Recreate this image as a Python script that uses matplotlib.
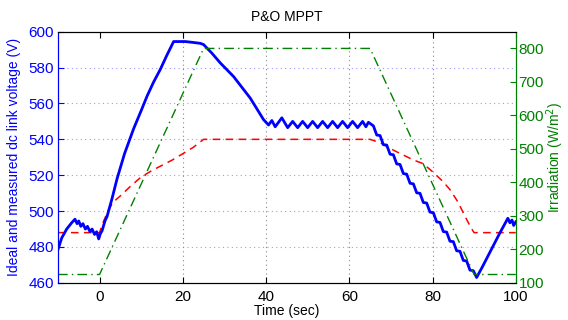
import matplotlib
matplotlib.use('Agg')
import matplotlib.pyplot as plt

plt.rcParams['font.family'] = ['Liberation Sans', 'DejaVu Sans']

# ---------------- data ---------------- #
# measured dc link voltage (blue)
t_meas = [-10, -9.1, -7.9, -6.7, -5.9, -5.4, -5.0, -4.5, -4.0, -3.4, -2.9, -2.3, -1.8, -1.2, -0.7, -0.2,
          0.2, 0.6, 1.3, 1.8, 3.0, 4.2, 6.0, 8.2, 10.0, 11.4, 13.0, 14.6, 16.2, 17.8, 20.6, 22.5, 24.2, 25.0,
          27.0, 29.0, 32.2, 36.2, 39.4, 40.6,
          41.4, 42.2, 43.8, 45.2, 46.4, 47.6, 48.8, 50.0, 51.2, 52.4, 53.6, 54.8, 56.0, 57.2, 58.4, 59.6,
          60.8, 62.0, 63.2, 64.0, 64.6,
          65.8, 66.6, 67.4, 68.2, 69.0, 69.8, 70.6, 71.4, 72.2, 73.0, 73.8, 74.6, 75.4, 76.2, 77.0, 77.8,
          78.6, 79.4, 80.2, 81.0, 81.8, 82.6, 83.4, 84.2, 85.0, 85.8, 86.6, 87.4, 88.2, 89.0, 89.8, 90.6,
          92.0, 94.0, 96.0, 98.1, 98.6, 99.1, 99.5, 100]
v_meas = [478.5, 485, 490, 493.5, 495.5, 493, 494.5, 491.5, 493, 490, 491.5, 488.5, 490, 487, 488.5, 484.5,
          487.5, 489, 494.5, 497, 507, 518, 532, 546, 556, 564, 572, 579, 587, 594.5, 594.5, 594, 593.5, 592.8,
          588, 582.6, 575, 563, 551, 548,
          550.5, 547, 552, 546.5, 550, 546.5, 550, 546.5, 550, 546.5, 550, 546.5, 550, 546.5, 550, 546.5,
          550, 546.5, 550, 547, 549.5,
          547.5, 542.4, 542.1, 537.0, 536.8, 531.7, 531.4, 526.3, 526.0, 520.9, 520.6, 515.5, 515.2, 510.2, 509.9, 504.8,
          504.5, 499.4, 499.1, 494.0, 493.7, 488.6, 488.3, 483.2, 483.0, 477.9, 477.6, 472.5, 472.2, 467.1, 466.8, 463,
          469, 478, 487, 496, 493.5, 495, 492, 494]

# ideal dc link voltage (red)
t_ideal = [-10, 0, 0.5, 1, 2, 3, 4, 5, 7.5, 10, 12.5, 15, 17.5, 20, 22.5, 25,
           65, 67.5, 71, 75.4, 77.7, 80, 82.5, 84.2, 86, 87.3, 88.5, 89.7, 90, 100]
v_ideal = [488, 488, 491.5, 494.5, 500, 504, 506.5, 508.5, 514, 519, 522.5, 525.5, 528.5, 532, 535.5, 540,
           540, 538, 533.5, 528.5, 526.5, 522, 516.5, 512, 505.5, 499.5, 494, 489, 488, 488]

# irradiation (green)
t_irr = [-10, 0, 25, 65, 90, 100]
g_irr = [125, 125, 800, 800, 125, 125]

x_ticks = [0, 20, 40, 60, 80, 100]
v_ticks = [460, 480, 500, 520, 540, 560, 580, 600]
g_ticks = [100, 200, 300, 400, 500, 600, 700, 800]
# --------------------------------------------------------- #

GREEN = (0, 0.5, 0)

fig = plt.figure(figsize=(5.68, 3.2), dpi=100)
ax1 = fig.add_axes([0.102, 0.116, 0.806, 0.785])
ax2 = ax1.twinx()

ax1.plot(t_meas, v_meas, color='blue', lw=2.0, zorder=3)
ax1.plot(t_ideal, v_ideal, color='red', lw=1.1, ls=(0, (5, 3.5)), zorder=2)
ax2.plot(t_irr, g_irr, color=GREEN, lw=1.0, ls=(0, (7, 3, 1, 3)))

ax1.set_xlim(-10, 100)
ax1.set_ylim(460, 600)
ax2.set_ylim(100, 850)
ax1.set_xticks(x_ticks)
ax1.set_yticks(v_ticks)
ax2.set_yticks(g_ticks)

# grid: blue-ish horizontal, grey vertical (matlab style)
for v in v_ticks[1:-1]:
    ax1.axhline(v, color='#9a9aff', lw=0.8, ls=(0, (1, 3)), zorder=1)
for x in x_ticks[1:-1]:
    ax1.axvline(x, color='#888888', lw=0.8, ls=(0, (1, 3)), zorder=1)

ax1.tick_params(axis='x', direction='in', length=4, labelsize=11, top=True, colors='black', pad=5)
ax1.tick_params(axis='y', direction='in', length=4, labelsize=11, colors='blue', pad=3)
ax2.tick_params(axis='y', direction='in', length=4, labelsize=11, colors=GREEN, pad=2)

ax1.spines['left'].set_color('blue')
ax2.spines['left'].set_color('blue')
ax2.spines['right'].set_color(GREEN)
ax1.spines['right'].set_color(GREEN)

ax1.set_title('P&O MPPT', fontsize=10, pad=8)
ax1.set_xlabel('Time (sec)', fontsize=10, labelpad=0)
ax1.set_ylabel('Ideal and measured dc link voltage (V)', fontsize=10, color='blue', labelpad=5)
ax2.set_ylabel('Irradiation (W/m$^2$)', fontsize=10, color=GREEN, labelpad=0)

fig.savefig('out.png', dpi=100)
